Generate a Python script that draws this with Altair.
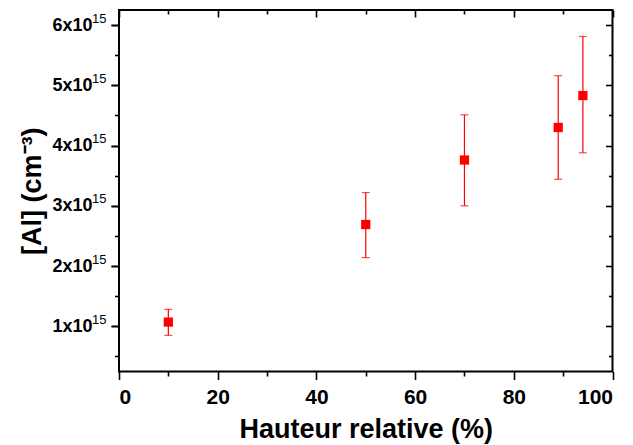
import altair as alt
import pandas as pd

# Data (concentration in units of 1e15 cm^-3)
height_pct = [10, 50, 70, 89, 94]
al_e15 = [1.07, 2.69, 3.76, 4.30, 4.83]
al_low_e15 = [0.85, 2.14, 3.00, 3.44, 3.88]
al_high_e15 = [1.28, 3.22, 4.51, 5.16, 5.81]

x_major = [0, 20, 40, 60, 80, 100]
x_minor = [10, 30, 50, 70, 90]
y_major = [1, 2, 3, 4, 5, 6]
y_minor = [0.5, 1.5, 2.5, 3.5, 4.5, 5.5]
y_exponent = "15"

df = pd.DataFrame({
    "h": height_pct,
    "al": al_e15,
    "lo": al_low_e15,
    "hi": al_high_e15,
})

FONT = "Liberation Sans"
RED = "#ff0000"
xscale = alt.Scale(domain=[0, 100], nice=False, zero=False)
yscale = alt.Scale(domain=[0.25, 6.25], nice=False, zero=False)

common = dict(domain=False, grid=False, tickColor="black", tickWidth=1.6)

x_bottom_major = alt.Axis(
    orient="bottom", values=x_major, tickSize=8, labels=True, labelOverlap=False,
    labelFont=FONT, labelFontSize=21, labelFontWeight="bold", labelColor="black",
    labelPadding=7, title="Hauteur relative (%)", titleFont=FONT, titleFontSize=27,
    titleFontWeight="bold", titleColor="black", titlePadding=9, **common)
x_bottom_minor = alt.Axis(orient="bottom", values=x_minor, tickSize=4.5, labels=False,
                          title=None, **common)
x_top_major = alt.Axis(orient="top", values=x_major, tickSize=7, offset=-7, labels=False,
                       title=None, **common)
x_top_minor = alt.Axis(orient="top", values=x_minor, tickSize=4, offset=-4, labels=False,
                       title=None, **common)

y_left_major = alt.Axis(
    orient="left", values=y_major, tickSize=8, labels=True, labelOverlap=False,
    labelExpr="datum.value + 'x10'",
    labelFont=FONT, labelFontSize=18, labelFontWeight="bold", labelColor="black",
    labelPadding=19, title="[Al] (cm\u207b\u00b3)", titleFont=FONT, titleFontSize=27,
    titleFontWeight="bold", titleColor="black", titlePadding=5, **common)
y_left_exponent = alt.Axis(
    orient="left", values=y_major, tickSize=8, labels=True, labelOverlap=False,
    labelExpr="'" + y_exponent + "'",
    labelFont=FONT, labelFontSize=13, labelFontWeight="normal", labelColor="black",
    labelPadding=5, labelOffset=-7, title=None, **common)
y_left_minor = alt.Axis(orient="left", values=y_minor, tickSize=4.5, labels=False,
                        title=None, **common)
y_right_major = alt.Axis(orient="right", values=y_major, tickSize=7, offset=-7, labels=False,
                         title=None, **common)
y_right_minor = alt.Axis(orient="right", values=y_minor, tickSize=4, offset=-4, labels=False,
                         title=None, **common)

base = alt.Chart(df)

bars_lower = base.mark_rule(color=RED, strokeWidth=1.2).encode(
    x=alt.X("h:Q", scale=xscale, axis=x_bottom_major),
    y=alt.Y("lo:Q", scale=yscale, axis=y_left_major),
    y2="al:Q",
)

bars_upper = base.mark_rule(color=RED, strokeWidth=1.2).encode(
    x=alt.X("h:Q", scale=xscale, axis=None),
    y=alt.Y("al:Q", scale=yscale, axis=y_left_exponent),
    y2="hi:Q",
)

caps_lo = base.mark_tick(color=RED, orient="horizontal", size=8, thickness=1.2).encode(
    x=alt.X("h:Q", scale=xscale, axis=x_bottom_minor),
    y=alt.Y("lo:Q", scale=yscale, axis=y_left_minor),
)

caps_hi = base.mark_tick(color=RED, orient="horizontal", size=8, thickness=1.2).encode(
    x=alt.X("h:Q", scale=xscale, axis=x_top_major),
    y=alt.Y("hi:Q", scale=yscale, axis=y_right_major),
)

points = base.mark_square(color=RED, size=85, opacity=1).encode(
    x=alt.X("h:Q", scale=xscale, axis=x_top_minor),
    y=alt.Y("al:Q", scale=yscale, axis=y_right_minor),
)

chart = (
    alt.layer(bars_lower, bars_upper, caps_lo, caps_hi, points)
    .resolve_axis(x="independent", y="independent")
    .properties(
        width=493.5,
        height=361.5,
        autosize=alt.AutoSizeParams(type="none"),
        padding={"left": 111, "top": 2, "right": 10, "bottom": 72},
        background="white",
    )
    .configure_view(stroke="black", strokeWidth=2)
)

chart.save("out.html", embed_options={"renderer": "svg", "actions": False})
